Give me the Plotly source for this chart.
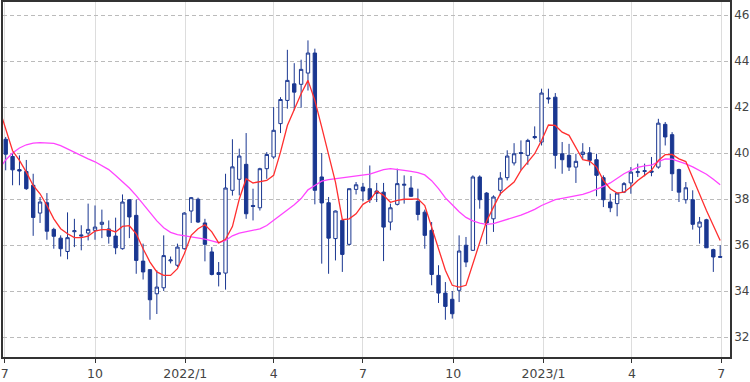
import pandas as pd
import plotly.graph_objects as go

# Weekly candles (Friday dates), 2021-07-02 .. 2023-06-30
opens = [40.6, 39.85, 39.28, 39.2, 38.6, 37.39, 37.84, 36.68, 36.3, 35.72,
         36.58, 36.44, 36.52, 36.64, 36.9, 36.7, 36.39, 35.84, 37.97, 37.29,
         35.3, 34.93, 33.88, 34.14, 35.31, 35.12, 35.84, 37.48, 37.99, 36.96,
         35.7, 34.8, 34.78, 38.38, 38.86, 39.51, 37.72, 37.62, 39.32, 39.83,
         41.28, 42.29, 43.01, 42.99, 43.48, 44.35, 38.96, 37.84, 36.28, 37.07,
         36.03, 38.42, 38.52, 38.45, 38.35, 38.3, 37.0, 37.77, 38.6, 38.48,
         37.9, 37.43, 36.64, 34.68, 33.91, 33.64, 34.03, 35.99, 35.77, 38.96,
         38.26, 37.14, 38.38, 38.93, 39.57, 40.02, 39.9, 40.72, 40.48, 42.4,
         42.43, 39.97, 39.9, 39.39, 39.94, 40.01, 39.71, 38.93, 37.87, 37.8,
         38.3, 38.7, 39.15, 39.2, 39.22, 39.39, 41.25, 40.8, 39.28, 37.97,
         37.97, 36.78, 37.1, 35.8, 35.5]
highs = [40.7, 40.0, 39.9, 39.7, 39.1, 38.09, 38.26, 36.75, 36.42, 37.42,
         37.14, 36.86, 37.8, 37.72, 37.54, 37.07, 37.19, 38.2, 38.0, 37.97,
         36.06, 34.95, 34.9, 36.42, 35.5, 36.06, 37.43, 38.09, 38.06, 37.14,
         35.91, 35.26, 39.1, 40.6, 40.19, 40.87, 38.45, 39.36, 40.04, 42.0,
         42.43, 44.49, 43.91, 44.06, 44.9, 44.54, 40.0, 38.09, 37.5, 37.14,
         38.45, 38.74, 38.7, 39.46, 38.7, 38.7, 37.8, 39.32, 39.03, 39.0,
         38.45, 37.54, 37.0, 35.12, 34.39, 34.0, 36.42, 36.35, 39.03, 39.03,
         38.3, 38.16, 39.17, 40.12, 40.43, 40.55, 40.62, 41.16, 42.8, 42.8,
         42.61, 40.48, 40.4, 39.97, 40.43, 40.26, 39.97, 39.03, 38.23, 38.26,
         38.74, 39.39, 39.54, 39.54, 39.83, 41.49, 41.35, 40.91, 39.32, 38.74,
         38.38, 37.22, 37.14, 35.84, 35.99]
lows = [39.25, 38.6, 38.6, 38.4, 36.4, 36.96, 36.23, 35.84, 35.5, 35.38,
        35.91, 35.77, 36.2, 36.23, 36.3, 36.06, 35.6, 35.8, 36.3, 34.75,
        34.5, 32.75, 33.0, 34.0, 35.2, 35.04, 35.8, 36.96, 36.96, 35.29,
        34.68, 34.2, 34.06, 38.15, 38.16, 37.14, 37.07, 37.5, 38.88, 39.75,
        40.87, 41.93, 41.86, 41.97, 42.72, 37.77, 35.19, 34.75, 35.33, 34.83,
        35.99, 38.2, 37.9, 37.83, 37.87, 35.3, 36.64, 37.72, 37.8, 38.09,
        37.07, 35.84, 34.25, 33.48, 32.75, 32.8, 33.52, 35.04, 35.74, 37.58,
        36.03, 36.57, 38.16, 38.81, 39.46, 39.25, 39.49, 40.6, 40.33, 42.15,
        39.32, 39.1, 39.22, 38.7, 39.71, 39.46, 38.12, 37.65, 37.43, 37.25,
        38.26, 38.23, 38.96, 38.99, 38.99, 39.32, 40.33, 38.35, 37.87, 37.8,
        36.67, 36.06, 35.88, 34.83, 35.45]
closes = [39.95, 39.27, 39.22, 38.45, 37.2, 37.87, 36.6, 36.38, 35.84, 36.32,
          36.62, 36.4, 36.68, 36.78, 36.99, 36.38, 35.88, 37.87, 37.22, 35.33,
          34.83, 33.62, 34.17, 35.54, 35.35, 35.91, 37.39, 38.06, 37.0, 36.03,
          34.72, 34.72, 38.48, 39.4, 39.87, 37.36, 37.68, 39.32, 39.94, 40.99,
          42.33, 43.16, 42.65, 43.64, 44.35, 38.38, 37.83, 36.3, 37.48, 35.59,
          38.45, 38.62, 38.35, 37.97, 38.25, 36.78, 37.62, 38.67, 38.64, 38.12,
          37.33, 36.42, 34.72, 33.91, 33.33, 33.01, 35.74, 35.26, 38.96, 37.97,
          36.96, 38.09, 38.91, 39.87, 39.97, 39.98, 40.55, 40.67, 42.61, 42.36,
          39.9, 39.71, 39.39, 39.64, 40.04, 39.68, 39.03, 37.97, 37.62, 38.26,
          38.67, 39.17, 39.19, 39.23, 39.17, 41.3, 40.7, 39.1, 38.3, 38.49,
          36.9, 37.0, 35.88, 35.48, 35.47]

# Moving-average lines (first point = week before first candle)
ma_short = [42.0, 41.06, 40.1, 39.68, 39.17, 38.59, 38.23, 37.72, 37.14, 36.71, 36.49,
            36.32, 36.32, 36.39, 36.61, 36.67, 36.67, 36.57, 36.81, 36.84, 36.49,
            35.84, 35.26, 34.83, 34.68, 34.68, 34.97, 35.62, 36.42, 36.71, 36.88,
            36.57, 36.09, 36.25, 36.8, 38.0, 38.88, 38.7, 38.74, 38.81, 39.03,
            40.04, 41.2, 41.93, 42.58, 43.16, 42.29, 41.13, 39.9, 38.74, 37.1,
            37.14, 37.36, 37.77, 37.95, 38.35, 38.16, 37.86, 37.94, 37.99, 37.99,
            38.01, 37.72, 36.78, 35.77, 34.9, 34.25, 34.17, 34.25, 35.19, 36.2,
            37.04, 37.65, 38.23, 38.49, 38.74, 39.25, 39.61, 39.97, 40.55, 41.22,
            41.2, 40.91, 40.77, 40.26, 39.71, 39.65, 39.39, 38.81, 38.45, 38.26,
            38.3, 38.52, 38.81, 39.03, 39.25, 39.68, 39.93, 39.94, 39.75, 39.63,
            38.9, 38.2, 37.5, 36.85, 36.2]
ma_long = [39.3, 39.7, 40.0, 40.22, 40.36, 40.43, 40.45, 40.45, 40.42, 40.32, 40.17,
           40.02, 39.88, 39.75, 39.62, 39.45, 39.28, 39.02, 38.76, 38.48, 38.15,
           37.8, 37.42, 37.05, 36.75, 36.55, 36.45, 36.4, 36.38, 36.33, 36.26,
           36.18, 36.1, 36.2, 36.4, 36.52, 36.57, 36.62, 36.7, 36.85, 37.07,
           37.3, 37.5, 37.75, 38.02, 38.4, 38.59, 38.78, 38.84, 38.88, 38.9,
           38.94, 38.98, 39.03, 39.08, 39.18, 39.28, 39.32, 39.3, 39.25, 39.2,
           39.15, 39.05, 38.8, 38.45, 38.05, 37.75, 37.45, 37.2, 37.05, 36.95,
           36.9, 36.93, 37.02, 37.12, 37.2, 37.3, 37.42, 37.55, 37.72, 37.85,
           37.97, 38.03, 38.08, 38.12, 38.2, 38.3, 38.42, 38.55, 38.7, 38.9,
           39.1, 39.25, 39.38, 39.44, 39.47, 39.63, 39.75, 39.74, 39.65, 39.53,
           39.4, 39.25, 39.08, 38.86, 38.62]

tick_dates = ["2021-07-01", "2021-10-01", "2022-01-01", "2022-04-01", "2022-07-01",
              "2022-10-01", "2023-01-01", "2023-04-01", "2023-07-01"]
tick_labels = ["7", "10", "2022/1", "4", "7", "10", "2023/1", "4", "7"]
y_ticks = [32, 34, 36, 38, 40, 42, 44, 46]

dates = pd.date_range("2021-07-02", periods=len(opens), freq="7D")
ma_dates = pd.date_range("2021-06-25", periods=len(ma_short), freq="7D")

NAVY = "#1a3791"

fig = go.Figure()
fig.add_trace(go.Candlestick(
    x=dates, open=opens, high=highs, low=lows, close=closes,
    increasing=dict(line=dict(color=NAVY, width=1), fillcolor="white"),
    decreasing=dict(line=dict(color=NAVY, width=1), fillcolor=NAVY),
    whiskerwidth=0, showlegend=False,
))
fig.add_trace(go.Scatter(x=ma_dates, y=ma_long, mode="lines",
                         line=dict(color="#ff44ff", width=1.3), showlegend=False))
fig.add_trace(go.Scatter(x=ma_dates, y=ma_short, mode="lines",
                         line=dict(color="#ff2f2f", width=1.3), showlegend=False))

fig.update_layout(
    width=750, height=382,
    margin=dict(l=3, r=20, t=2, b=25, autoexpand=False),
    paper_bgcolor="white", plot_bgcolor="white",
    font=dict(family="DejaVu Sans", size=12, color="#444"),
    showlegend=False,
)
fig.update_xaxes(
    type="date", range=["2021-06-29 06:00", "2023-07-10"],
    tickvals=tick_dates, ticktext=tick_labels, automargin=False,
    tickfont=dict(size=12.5),
    showgrid=True, gridcolor="#dddddd", gridwidth=1,
    showline=True, linecolor="#333", linewidth=1.5, mirror=True,
    ticks="outside", ticklen=4, tickcolor="#333",
    rangeslider=dict(visible=False), zeroline=False,
)
fig.update_yaxes(
    side="right", range=[31.13, 46.57], tickvals=y_ticks, automargin=False,
    showgrid=True, gridcolor="#bbbbbb", gridwidth=1, griddash="4px,3px",
    showline=True, linecolor="#333", linewidth=1.5, mirror=True,
    ticks="", zeroline=False,
)

fig.write_html(
    "out.html",
    config={"displayModeBar": False},
    post_script="document.body.style.margin='0';document.body.style.overflow='hidden';",
)
